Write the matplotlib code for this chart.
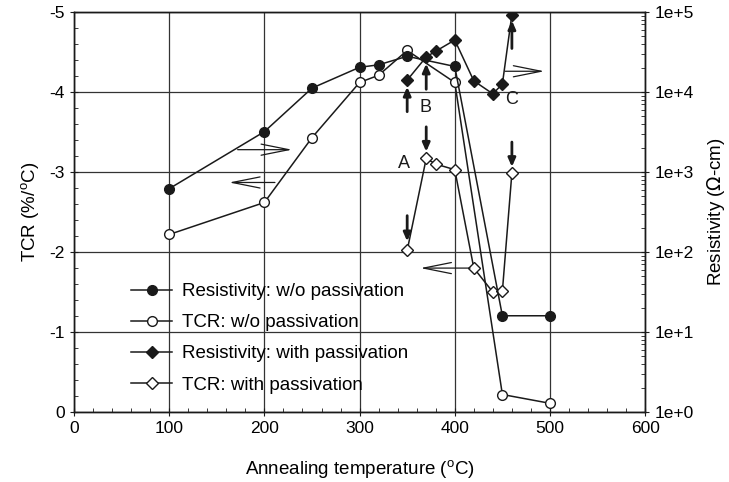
import numpy as np
import matplotlib
matplotlib.use('Agg')
import matplotlib.pyplot as plt
from matplotlib.ticker import MultipleLocator, FixedLocator, FuncFormatter, LogLocator, NullFormatter

plt.rcParams['font.family'] = ['Liberation Sans', 'DejaVu Sans']

# --- data ---
temp_wo = [100, 200, 250, 300, 320, 350, 400, 450, 500]
res_wo = [620, 3200, 11200, 20400, 21900, 28000, 20900, 16, 16]
tcr_wo = [-2.22, -2.62, -3.43, -4.12, -4.21, -4.52, -4.12, -0.22, -0.11]

temp_with = [350, 370, 380, 400, 420, 440, 450, 460]
res_with = [14100, 27500, 32400, 44700, 13800, 9500, 12600, 93000]
tcr_with = [-2.02, -3.17, -3.10, -3.03, -1.80, -1.50, -1.51, -2.99]

fig = plt.figure(figsize=(7.29, 4.82), dpi=100)
ax = fig.add_axes([0.1015, 0.145, 0.7835, 0.83])
ax2 = ax.twinx()

col = '#1a1a1a'

# left axis: TCR, inverted so -5 is on top
ax.set_xlim(0, 600)
ax.set_ylim(0, -5)
ax.xaxis.set_major_locator(MultipleLocator(100))
ax.xaxis.set_minor_locator(MultipleLocator(20))
ax.yaxis.set_major_locator(MultipleLocator(1))
ax.yaxis.set_minor_locator(MultipleLocator(0.2))
ax.yaxis.set_major_formatter(FuncFormatter(lambda v, p: '%d' % round(v)))
ax.tick_params(which='major', direction='inout', length=6, labelsize=12.5, color=col)
ax.tick_params(which='minor', direction='in', length=3, color=col)
ax.grid(True, which='major', color='#333333', lw=0.9)

# right axis: resistivity, log
ax2.set_yscale('log')
ax2.set_ylim(1, 1e5)
ax2.yaxis.set_major_locator(FixedLocator([1, 10, 100, 1e3, 1e4, 1e5]))
ax2.yaxis.set_major_formatter(FuncFormatter(lambda v, p: '1e+%d' % round(np.log10(v))))
ax2.yaxis.set_minor_locator(LogLocator(base=10, subs=np.arange(2, 10)))
ax2.yaxis.set_minor_formatter(NullFormatter())
ax2.tick_params(which='major', direction='inout', length=6, labelsize=12.5, color=col)
ax2.tick_params(which='minor', direction='in', length=3, color=col)

for a in (ax, ax2):
    for s in a.spines.values():
        s.set_color(col)
        s.set_linewidth(1.0)

mk = dict(color=col, lw=1.1, markersize=7, markeredgewidth=1.0)
l1, = ax2.plot(temp_wo, res_wo, marker='o', mfc=col, mec=col, label='Resistivity: w/o passivation', **mk)
l2, = ax.plot(temp_wo, tcr_wo, marker='o', mfc='white', mec=col, label='TCR: w/o passivation', **mk)
l3, = ax2.plot(temp_with, res_with, marker='D', mfc=col, mec=col, label='Resistivity: with passivation',
               **dict(mk, markersize=6))
l4, = ax.plot(temp_with, tcr_with, marker='D', mfc='white', mec=col, label='TCR: with passivation',
              **dict(mk, markersize=6))

# vertical pointer arrows (in TCR coordinates)
solid = dict(arrowstyle='-|>,head_length=0.5,head_width=0.22', color=col, lw=2.0)
for x0, y0, y1 in [(350, -3.72, -4.10), (350, -2.49, -2.10),
                   (370, -4.00, -4.39), (370, -3.60, -3.22),
                   (460, -4.51, -4.93), (460, -3.41, -3.03)]:
    ax.annotate('', xy=(x0, y1), xytext=(x0, y0), arrowprops=solid, zorder=5)

ax.text(347, -3.11, 'A', fontsize=13, ha='center', va='center', color=col)
ax.text(369, -3.81, 'B', fontsize=13, ha='center', va='center', color=col)
ax.text(460, -3.91, 'C', fontsize=13, ha='center', va='center', color=col)

# horizontal axis-pointer arrows (open heads)
opn = dict(arrowstyle='->,head_length=2.0,head_width=0.4', color=col, lw=0.9)
for xa, xb, yy in [(169, 232, -3.28), (214, 160, -2.87), (450, 497, -4.26), (419, 361, -1.80)]:
    ax.annotate('', xy=(xb, yy), xytext=(xa, yy), arrowprops=opn)

ax.set_xlabel('Annealing temperature ($\\mathregular{^oC}$)', fontsize=13.5, labelpad=16)
ax.set_ylabel('TCR (%/$\\mathregular{^o}$C)', fontsize=13.5, labelpad=6)
ax2.set_ylabel('Resistivity ($\\Omega$-cm)', fontsize=13.5, labelpad=8)

leg = ax2.legend(handles=[l1, l2, l3, l4], loc='lower left', bbox_to_anchor=(0.08, 0.018),
                 frameon=False, fontsize=13.5, handlelength=2.2, labelspacing=0.75,
                 handletextpad=0.5, borderaxespad=0.2)

fig.savefig('out.png', dpi=100)
